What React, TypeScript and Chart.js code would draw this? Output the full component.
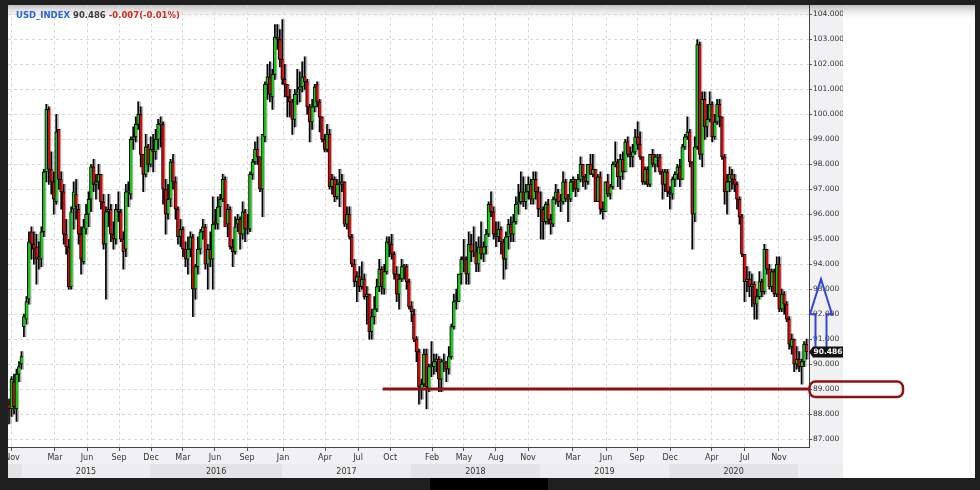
import React, { useEffect, useRef } from "react";
import { Chart, registerables } from "chart.js";

Chart.register(...registerables);
Chart.defaults.font.family = "'DejaVu Sans', sans-serif";

// Weekly USD index candles
const opens = [
  88.4, 88.2, 89.3, 88.2, 89.6, 90.0, 91.5, 91.8, 92.6, 95.3,
  94.8, 94.7, 94.2, 94.2, 95.3, 97.7, 100.2, 97.8, 97.3, 96.5,
  99.4, 97.4, 96.9, 95.2, 94.7, 93.1, 96.2, 96.8, 96.2, 95.2,
  94.1, 95.4, 96.0, 96.6, 97.9, 97.2, 97.3, 97.6, 96.5, 94.8,
  96.1, 96.2, 95.2, 95.0, 96.2, 96.1, 95.0, 94.6, 96.9, 96.8,
  99.0, 99.1, 99.6, 100.0, 98.4, 97.6, 98.7, 98.0, 98.6, 98.5,
  99.0, 99.6, 99.6, 97.0, 96.0, 96.6, 98.1, 97.3, 96.2, 95.1,
  95.4, 94.6, 94.2, 94.6, 95.1, 93.0, 93.9, 94.6, 95.3, 95.5,
  94.0, 94.6, 94.2, 95.7, 95.6, 96.3, 96.6, 97.4, 95.6, 96.2,
  94.7, 94.5, 95.6, 95.8, 95.2, 96.1, 95.4, 95.4, 97.6, 98.1,
  98.6, 98.3, 97.0, 99.1, 101.2, 101.5, 100.7, 101.6, 103.1, 103.0,
  102.2, 101.4, 101.2, 100.7, 100.5, 99.8, 100.8, 101.0, 101.1, 101.5,
  101.3, 100.3, 99.7, 100.3, 101.2, 100.5, 99.9, 99.0, 98.6, 99.2,
  97.1, 97.4, 96.7, 97.2, 97.2, 97.3, 95.6, 96.0, 95.1, 94.0,
  93.3, 93.5, 93.1, 93.4, 92.7, 92.8, 91.3, 91.9, 92.2, 93.1,
  93.8, 93.0, 93.7, 94.9, 94.8, 94.4, 93.6, 92.8, 93.4, 93.9,
  93.9, 93.3, 92.3, 92.0, 91.0, 90.5, 89.0, 89.2, 90.4, 89.0,
  89.9, 89.9, 90.1, 90.2, 89.4, 90.1, 90.1, 89.8, 90.3, 91.5,
  92.5, 92.5, 93.6, 94.3, 94.2, 93.6, 94.8, 94.5, 94.5, 94.0,
  94.7, 94.4, 94.7, 95.2, 96.4, 96.1, 95.2, 95.1, 95.4, 94.9,
  94.2, 95.1, 95.6, 95.2, 95.7, 96.4, 96.5, 96.9, 96.5, 96.9,
  97.2, 96.6, 97.4, 96.9, 96.2, 96.2, 95.7, 96.4, 95.8, 95.6,
  96.6, 96.9, 96.5, 96.5, 97.3, 96.6, 96.6, 97.3, 97.4, 97.0,
  97.4, 98.0, 97.5, 97.3, 98.0, 97.6, 97.8, 96.5, 97.5, 96.2,
  96.1, 97.3, 96.8, 97.1, 98.0, 98.1, 97.5, 98.2, 97.7, 98.9,
  98.4, 98.3, 98.5, 99.1, 98.8, 98.3, 97.3, 97.8, 97.2, 98.4,
  98.0, 98.3, 98.3, 97.7, 97.2, 97.7, 96.9, 96.8, 97.4, 97.6,
  97.9, 97.4, 98.7, 99.1, 99.3, 98.1, 96.0, 98.7, 102.8, 98.4,
  100.6, 99.5, 99.8, 100.4, 99.1, 99.7, 100.4, 99.9, 98.3, 96.9,
  97.3, 97.6, 97.4, 97.2, 96.6, 95.9, 94.4, 93.3, 93.4, 93.1,
  93.2, 92.4, 92.7, 93.3, 92.9, 94.6, 93.8, 93.1, 93.7, 92.8,
  94.0, 92.2, 92.8, 92.4, 91.8, 90.7, 91.0, 90.0, 90.2, 89.9, 90.1, 90.8,
];
const highs = [
  88.6, 89.5, 89.6, 89.8, 90.1, 90.5, 92.0, 92.7, 95.3, 95.5,
  95.3, 95.2, 94.9, 95.5, 97.8, 100.4, 100.3, 98.5, 97.7, 100.0,
  99.4, 97.7, 97.2, 95.8, 95.0, 96.3, 97.3, 97.4, 96.4, 95.5,
  95.8, 96.4, 96.9, 98.0, 98.2, 97.6, 98.0, 97.6, 96.8, 96.3,
  96.8, 96.4, 95.7, 96.4, 96.9, 96.2, 95.3, 97.2, 97.3, 99.1,
  99.5, 99.9, 100.5, 100.3, 98.4, 99.2, 98.8, 99.1, 99.2, 99.4,
  99.8, 99.9, 99.7, 97.4, 97.2, 98.2, 98.4, 97.5, 96.3, 95.8,
  95.5, 94.9, 95.1, 95.3, 95.2, 94.0, 95.1, 95.4, 95.8, 95.6,
  94.8, 95.3, 96.7, 96.2, 96.7, 96.8, 97.6, 97.5, 96.4, 96.3,
  95.0, 95.9, 96.0, 95.9, 96.5, 96.2, 96.0, 97.7, 98.2, 98.9,
  99.1, 98.3, 99.2, 101.3, 102.0, 102.1, 101.8, 103.6, 103.6, 103.4,
  103.8, 102.0, 101.2, 101.0, 100.6, 101.0, 101.8, 101.7, 102.1, 102.3,
  101.4, 100.4, 100.6, 101.2, 101.3, 100.6, 99.9, 99.2, 99.6, 99.4,
  97.6, 97.5, 97.4, 97.8, 97.6, 97.3, 96.3, 96.3, 95.2, 94.2,
  93.7, 93.9, 94.1, 93.6, 93.1, 92.8, 92.2, 92.7, 93.4, 94.2,
  93.9, 94.0, 95.1, 95.1, 95.2, 94.5, 93.9, 93.6, 94.2, 94.0,
  94.0, 93.4, 92.5, 92.2, 91.1, 90.6, 89.4, 90.6, 90.6, 90.0,
  90.9, 90.4, 90.4, 90.3, 90.2, 90.4, 90.1, 90.7, 91.6, 92.8,
  93.0, 93.6, 94.3, 95.0, 94.3, 95.3, 95.2, 95.5, 94.9, 95.1,
  95.7, 94.9, 95.4, 96.5, 96.9, 96.3, 95.7, 95.7, 95.5, 95.0,
  95.3, 95.8, 95.9, 96.0, 96.7, 97.2, 97.7, 97.5, 97.2, 97.5,
  97.4, 97.7, 97.7, 97.1, 96.9, 96.3, 96.5, 96.6, 96.0, 96.7,
  97.2, 97.0, 96.8, 97.7, 97.4, 96.8, 97.4, 97.5, 97.4, 97.6,
  98.3, 98.0, 97.6, 98.0, 98.4, 98.4, 97.8, 97.6, 97.7, 96.5,
  97.3, 97.6, 97.2, 98.1, 98.9, 98.2, 98.4, 98.5, 99.0, 99.1,
  98.7, 98.8, 99.4, 99.7, 99.3, 98.3, 97.9, 97.9, 98.4, 98.6,
  98.4, 98.4, 98.4, 97.8, 97.8, 97.8, 97.1, 97.5, 97.7, 98.0,
  98.2, 98.8, 99.2, 99.9, 99.4, 98.1, 99.1, 103.0, 102.9, 100.9,
  100.9, 100.4, 100.9, 100.5, 100.0, 100.6, 100.6, 99.9, 98.4, 97.6,
  97.9, 97.8, 97.6, 97.3, 96.7, 96.0, 94.4, 93.9, 93.7, 93.6,
  93.3, 93.0, 93.7, 93.4, 94.8, 94.6, 94.0, 93.8, 93.8, 94.3,
  94.3, 93.0, 92.9, 92.5, 91.9, 91.2, 91.0, 90.7, 90.5, 90.2, 90.9, 91.0,
];
const lows = [
  87.6, 87.9, 88.0, 87.7, 89.3, 89.8, 91.1, 91.6, 92.4, 94.2,
  94.0, 93.2, 93.8, 93.9, 95.1, 97.3, 97.2, 96.8, 96.0, 96.4,
  97.0, 96.2, 94.8, 94.4, 93.0, 93.0, 95.4, 95.8, 94.8, 93.6,
  94.0, 95.2, 95.5, 96.1, 96.9, 96.6, 97.0, 96.2, 94.6, 92.6,
  95.5, 94.9, 94.6, 94.8, 95.7, 94.9, 93.8, 94.3, 96.3, 96.6,
  98.6, 98.9, 99.4, 97.9, 96.9, 97.5, 97.7, 97.9, 97.7, 98.2,
  98.6, 98.7, 96.4, 95.2, 95.8, 96.3, 97.0, 95.8, 94.8, 94.7,
  94.3, 93.9, 93.6, 94.3, 91.9, 92.6, 93.6, 94.4, 95.0, 93.8,
  93.0, 93.9, 93.0, 95.4, 95.4, 95.9, 96.5, 95.5, 95.1, 94.6,
  93.9, 94.4, 95.3, 94.6, 95.0, 94.9, 95.2, 95.3, 97.4, 98.0,
  98.0, 96.9, 95.9, 98.9, 100.6, 100.5, 100.2, 101.4, 102.6, 101.9,
  101.2, 100.7, 99.9, 99.9, 99.2, 99.5, 100.4, 100.5, 100.9, 101.0,
  100.0, 98.9, 99.4, 100.1, 100.3, 99.3, 98.9, 98.5, 98.5, 97.0,
  96.8, 96.5, 96.6, 96.3, 96.9, 95.5, 95.4, 95.0, 93.9, 93.1,
  92.5, 92.9, 93.0, 92.6, 91.6, 91.0, 91.0, 91.6, 92.1, 92.9,
  92.8, 92.8, 93.6, 94.3, 94.2, 93.4, 92.5, 92.2, 93.3, 93.4,
  93.0, 92.2, 91.7, 90.9, 90.1, 88.4, 88.6, 89.1, 88.2, 88.9,
  89.5, 89.6, 89.7, 88.9, 88.9, 89.7, 89.3, 89.6, 90.2, 91.4,
  92.2, 92.5, 93.2, 93.7, 93.2, 93.2, 94.1, 94.3, 93.7, 93.7,
  94.2, 94.1, 94.4, 95.1, 95.9, 95.0, 94.7, 94.9, 94.4, 93.4,
  93.8, 94.6, 94.9, 94.9, 95.6, 96.0, 96.4, 96.3, 96.2, 96.6,
  96.4, 96.4, 96.6, 95.9, 95.0, 95.0, 95.6, 95.6, 95.2, 95.5,
  96.4, 96.3, 96.1, 96.4, 96.5, 95.7, 96.5, 96.9, 96.7, 96.9,
  97.3, 97.1, 97.0, 97.2, 97.6, 97.5, 96.5, 96.5, 96.0, 95.8,
  96.1, 96.7, 96.6, 97.0, 97.9, 97.1, 97.0, 97.4, 97.7, 98.3,
  97.9, 97.9, 98.4, 98.6, 98.2, 97.2, 97.2, 97.1, 97.1, 97.9,
  97.7, 97.9, 97.6, 96.6, 96.9, 96.7, 96.2, 96.6, 97.1, 97.4,
  97.1, 97.4, 98.6, 99.0, 97.9, 94.6, 95.7, 98.6, 98.2, 97.9,
  99.0, 99.1, 99.7, 98.9, 99.0, 99.6, 99.5, 98.2, 96.4, 96.0,
  96.9, 97.0, 96.9, 96.2, 95.6, 94.3, 92.5, 92.9, 92.7, 92.3,
  91.8, 91.8, 92.6, 92.7, 92.8, 93.6, 93.0, 92.9, 92.7, 92.7,
  92.1, 92.1, 92.0, 91.7, 90.6, 90.4, 89.7, 89.8, 89.7, 89.2, 89.9, 90.2,
];
const closes = [
  88.2, 89.4, 88.3, 89.6, 89.9, 90.3, 91.9, 92.5, 94.9, 94.8,
  94.6, 94.2, 94.3, 95.3, 97.7, 100.2, 97.8, 97.3, 96.6, 99.3,
  97.4, 96.9, 95.2, 94.7, 93.1, 96.1, 96.9, 96.3, 95.2, 94.2,
  95.5, 96.0, 96.6, 97.9, 97.2, 97.3, 97.6, 96.5, 94.8, 96.1,
  96.2, 95.2, 95.0, 96.2, 96.1, 95.0, 94.5, 96.9, 96.9, 99.0,
  99.1, 99.6, 100.0, 98.4, 97.6, 98.7, 98.0, 98.6, 98.5, 99.0,
  99.6, 99.6, 97.0, 96.0, 96.6, 98.1, 97.3, 96.2, 95.1, 95.4,
  94.6, 94.2, 94.6, 95.1, 93.0, 93.9, 94.6, 95.3, 95.5, 94.0,
  94.6, 94.2, 95.6, 95.6, 96.3, 96.6, 97.4, 95.5, 96.2, 94.7,
  94.5, 95.5, 95.8, 95.2, 96.1, 95.4, 95.4, 97.6, 98.1, 98.6,
  98.3, 97.0, 99.2, 101.2, 101.5, 100.8, 101.6, 103.1, 103.0, 102.2,
  101.4, 101.2, 100.7, 100.5, 99.8, 100.8, 100.9, 101.1, 101.5, 101.3,
  100.3, 99.7, 100.3, 101.1, 100.5, 99.9, 99.0, 98.6, 99.2, 97.1,
  97.4, 96.7, 97.2, 97.2, 97.3, 95.6, 96.0, 95.1, 94.0, 93.3,
  93.5, 93.1, 93.4, 92.7, 92.8, 91.3, 91.9, 92.2, 93.1, 93.8,
  93.1, 93.7, 94.9, 94.8, 94.4, 93.6, 92.8, 93.4, 93.9, 93.9,
  93.3, 92.3, 92.1, 91.0, 90.5, 89.1, 89.2, 90.4, 89.1, 89.9,
  89.9, 90.1, 90.2, 89.4, 90.1, 90.1, 89.8, 90.3, 91.5, 92.5,
  92.5, 93.6, 94.2, 94.2, 93.6, 94.8, 94.5, 94.5, 94.0, 94.7,
  94.4, 94.7, 95.2, 96.4, 96.1, 95.2, 95.1, 95.4, 94.9, 94.2,
  95.1, 95.6, 95.2, 95.7, 96.4, 96.5, 96.9, 96.5, 96.9, 97.2,
  96.6, 97.4, 96.9, 96.2, 96.2, 95.7, 96.4, 95.8, 95.6, 96.6,
  96.9, 96.5, 96.5, 97.3, 96.6, 96.6, 97.3, 97.4, 97.0, 97.4,
  98.0, 97.5, 97.3, 98.0, 97.6, 97.8, 96.5, 97.5, 96.2, 96.1,
  97.3, 96.8, 97.1, 98.0, 98.1, 97.5, 98.2, 97.7, 98.9, 98.4,
  98.3, 98.5, 99.1, 98.8, 98.3, 97.3, 97.8, 97.2, 98.4, 98.0,
  98.3, 98.3, 97.7, 97.2, 97.7, 96.9, 96.8, 97.4, 97.6, 97.9,
  97.4, 98.7, 99.1, 99.3, 98.1, 96.0, 98.7, 102.8, 98.4, 100.6,
  99.5, 99.8, 100.4, 99.1, 99.7, 100.4, 99.9, 98.3, 96.9, 97.3,
  97.6, 97.4, 97.2, 96.6, 95.9, 94.4, 93.3, 93.4, 93.1, 93.2,
  92.4, 92.7, 93.3, 92.9, 94.6, 93.8, 93.1, 93.7, 92.8, 94.0,
  92.2, 92.8, 92.4, 91.8, 90.8, 91.0, 90.0, 90.2, 89.9, 90.1, 90.8, 90.5,
];

// Axis labels (positions given in candle-index units)
const monthLabels = ["Nov", "Mar", "Jun", "Sep", "Dec", "Mar", "Jun", "Sep", "Jan", "Apr", "Jul", "Oct", "Feb", "May", "Aug", "Nov", "Mar", "Jun", "Sep", "Dec", "Apr", "Jul", "Nov"];
const monthTickIdx = [1.2, 18.5, 31.4, 44.3, 57.2, 70.0, 82.9, 95.8, 110.3, 127.2, 140.5, 153.4, 170.3, 183.1, 196.0, 208.9, 227.0, 240.3, 252.8, 266.1, 282.9, 296.2, 309.9];
const yearLabels = ["2015", "2016", "2017", "2018", "2019", "2020"];
const yearStartIdx = [5.2, 56.8, 109.9, 161.8, 213.7, 265.7, 317.6];

const symbol = "USD_INDEX";
const lastPrice = 90.486;
const change = -0.007;
const changePct = -0.01;
const supportLevel = 89;
const supportStartIdx = 150.4;
const arrowFrom = 90.6;
const arrowNeck = 92.0;
const arrowTip = 93.4;

const UP = "#14c814";
const DOWN = "#d40a0a";

export default function App() {
  const ref = useRef<HTMLCanvasElement>(null);

  useEffect(() => {
    const canvas = ref.current!;
    const idx = closes.map((_, i) => i);
    const bodyColors = idx.map((i) => (closes[i] >= opens[i] ? UP : DOWN));

    const bgPlugin = {
      id: "bg",
      beforeDraw(chart: any) {
        const { ctx, chartArea: ca, width, height } = chart;
        const xs = chart.scales.x;
        const panelR = width - 5;
        const panelB = height - 12;
        const axisR = ca.right + 34;
        ctx.save();
        ctx.fillStyle = "#1f1f1f";
        ctx.fillRect(0, 0, width, height);
        ctx.fillStyle = "#ffffff";
        ctx.fillRect(8, 5, panelR - 8, panelB - 5);
        ctx.fillStyle = "#f1f1f3";
        ctx.fillRect(ca.right, 5, axisR - ca.right, panelB - 5);
        ctx.fillRect(8, ca.bottom, axisR - 8, panelB - ca.bottom);
        const rowTop = ca.bottom + 17;
        const edges = [8, ...yearStartIdx.map((v) => xs.getPixelForValue(v)), axisR];
        for (let k = 0; k < edges.length - 1; k++) {
          ctx.fillStyle = k % 2 === 0 ? "#e3e3e5" : "#ededef";
          ctx.fillRect(edges[k], rowTop, edges[k + 1] - edges[k], panelB - rowTop);
        }
        ctx.fillStyle = "#333";
        ctx.font = "8px 'DejaVu Sans'";
        ctx.textAlign = "center";
        ctx.textBaseline = "middle";
        yearLabels.forEach((lab, k) => {
          ctx.fillText(lab, (edges[k + 1] + edges[k + 2]) / 2, rowTop + 8);
        });
        const g = ctx.createLinearGradient(0, 5, 0, 21);
        g.addColorStop(0, "rgba(180,180,180,0.85)");
        g.addColorStop(1, "rgba(255,255,255,0)");
        ctx.fillStyle = g;
        ctx.fillRect(8, 5, panelR - 8, 16);
        ctx.restore();
      },
    };

    const annoPlugin = {
      id: "anno",
      afterDraw(chart: any) {
        const { ctx, chartArea: ca, height } = chart;
        const xs = chart.scales.x;
        const ys = chart.scales.y;
        ctx.save();
        // support line and label box
        const sy = ys.getPixelForValue(supportLevel);
        ctx.strokeStyle = "#8c1212";
        ctx.lineWidth = 3;
        ctx.beginPath();
        ctx.moveTo(xs.getPixelForValue(supportStartIdx), sy);
        ctx.lineTo(ca.right + 1, sy);
        ctx.stroke();
        ctx.lineWidth = 2.5;
        ctx.beginPath();
        ctx.roundRect(ca.right + 0.5, sy - 7.5, 93.5, 15.5, 6);
        ctx.stroke();
        // up arrow
        const ax = ca.right + 12;
        const yb = ys.getPixelForValue(arrowFrom);
        const yn = ys.getPixelForValue(arrowNeck);
        const yt = ys.getPixelForValue(arrowTip);
        ctx.strokeStyle = "#3346d6";
        ctx.lineWidth = 2;
        ctx.beginPath();
        ctx.moveTo(ax - 5.5, yb);
        ctx.lineTo(ax - 5.5, yn);
        ctx.lineTo(ax - 11, yn);
        ctx.lineTo(ax, yt);
        ctx.lineTo(ax + 11, yn);
        ctx.lineTo(ax + 5.5, yn);
        ctx.lineTo(ax + 5.5, yb);
        ctx.closePath();
        ctx.stroke();
        // last price tag
        const py = ys.getPixelForValue(lastPrice);
        ctx.fillStyle = "#111";
        ctx.beginPath();
        ctx.moveTo(ca.right, py);
        ctx.lineTo(ca.right + 4, py - 5.5);
        ctx.lineTo(ca.right + 34, py - 5.5);
        ctx.lineTo(ca.right + 34, py + 5.5);
        ctx.lineTo(ca.right + 4, py + 5.5);
        ctx.closePath();
        ctx.fill();
        ctx.fillStyle = "#fff";
        ctx.font = "bold 7.5px 'DejaVu Sans'";
        ctx.textAlign = "left";
        ctx.textBaseline = "middle";
        ctx.fillText(lastPrice.toFixed(3), ca.right + 4.5, py + 0.5);
        // title
        ctx.font = "bold 8.5px 'DejaVu Sans'";
        ctx.textBaseline = "alphabetic";
        let tx = 16;
        const parts: [string, string][] = [
          [symbol + " ", "#2d62dc"],
          [lastPrice.toFixed(3) + " ", "#3c3c3c"],
          [`${change.toFixed(3)}(${changePct.toFixed(2)}%)`, "#d22c1c"],
        ];
        for (const [t, c] of parts) {
          ctx.fillStyle = c;
          ctx.fillText(t, tx, 17.5);
          tx += ctx.measureText(t).width;
        }
        // frame pieces
        ctx.fillStyle = "#1f1f1f";
        ctx.fillRect(0, 0, 8, height);
        ctx.fillStyle = "#000";
        ctx.fillRect(430, height - 12, 118, 12);
        ctx.restore();
      },
    };

    const chart = new Chart(canvas, {
      type: "bar",
      data: {
        datasets: [
          {
            label: "body",
            data: idx.map((i) => ({ x: i, y: [opens[i], closes[i]] })) as any,
            backgroundColor: bodyColors,
            borderColor: "#000",
            borderWidth: { left: 1, right: 0, top: 1, bottom: 1 } as any,
            borderSkipped: false,
            barThickness: 3,
            minBarLength: 1,
            grouped: false,
            order: 0,
          } as any,
          {
            label: "wick",
            data: idx.map((i) => ({ x: i, y: [lows[i], highs[i]] })) as any,
            backgroundColor: "#000",
            borderWidth: 0,
            barThickness: 1,
            grouped: false,
            order: 1,
          } as any,
          {
            label: "shadow",
            data: idx.map((i) => ({ x: i + 0.6, y: [lows[i], highs[i]] })) as any,
            backgroundColor: "rgba(120,120,120,0.55)",
            borderWidth: 0,
            barThickness: 1.5,
            grouped: false,
            order: 2,
          } as any,
        ],
      },
      options: {
        responsive: false,
        animation: false,
        devicePixelRatio: 1,
        events: [],
        layout: { padding: { left: 8, top: 5, right: 137, bottom: 12 } },
        plugins: { legend: { display: false }, tooltip: { enabled: false } },
        scales: {
          x: {
            type: "linear",
            min: -0.4,
            max: 322,
            offset: false,
            afterBuildTicks: (s: any) => {
              s.ticks = monthTickIdx.map((v) => ({ value: v }));
            },
            afterFit: (s: any) => {
              s.height = 31;
            },
            ticks: {
              autoSkip: false,
              maxRotation: 0,
              padding: 2,
              color: "#333",
              font: { size: 8 },
              callback: (_v: any, i: number) => monthLabels[i],
            },
            grid: { color: "#d8d8d8", tickColor: "#555", tickLength: 4, offset: false, tickBorderDash: [] } as any,
            border: { display: true, color: "#444", dash: [3, 3] },
          } as any,
          y: {
            position: "right",
            min: 86.68,
            max: 104.36,
            beginAtZero: false,
            afterFit: (s: any) => {
              s.width = 34;
            },
            ticks: {
              stepSize: 1,
              includeBounds: false,
              padding: 1,
              color: "#333",
              font: { size: 7.5 },
              callback: (v: any) => Number(v).toFixed(3),
            },
            grid: { color: "#d8d8d8", tickColor: "#555", tickLength: 3, tickBorderDash: [] } as any,
            border: { display: true, color: "#444", dash: [3, 3] },
          } as any,
        },
      },
      plugins: [bgPlugin, annoPlugin],
    });

    return () => chart.destroy();
  }, []);

  return (
    <div style={{ position: "fixed", left: 0, top: 0, width: 980, height: 490, background: "#1f1f1f" }}>
      <canvas ref={ref} width={980} height={490} style={{ display: "block", width: 980, height: 490 }} />
    </div>
  );
}
